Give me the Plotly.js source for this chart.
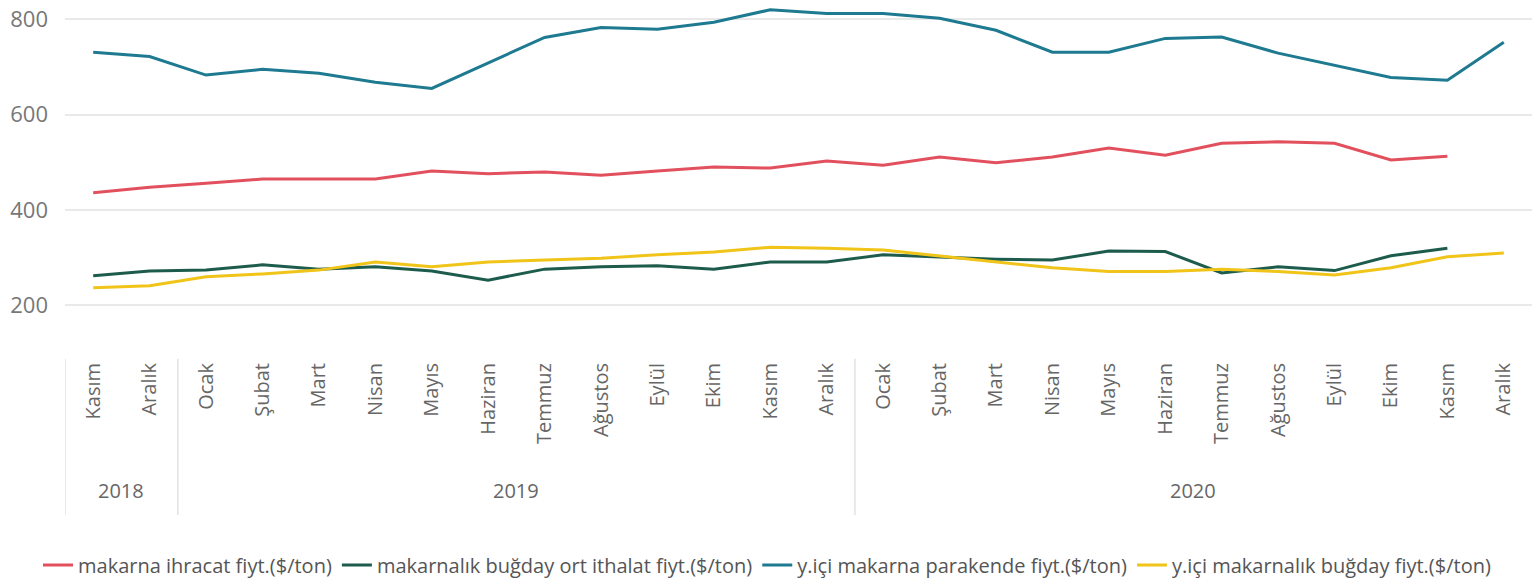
<!DOCTYPE html>
<html>
<head>
<meta charset="utf-8">
<script src="https://cdn.plot.ly/plotly-3.0.1.min.js"></script>
<style>html,body{margin:0;padding:0;background:#fff;}#chart{width:1534px;height:580px;}</style>
</head>
<body>
<div id="chart"></div>
<script>
const months = ["Kasım","Aralık","Ocak","Şubat","Mart","Nisan","Mayıs","Haziran","Temmuz","Ağustos","Eylül","Ekim","Kasım","Aralık","Ocak","Şubat","Mart","Nisan","Mayıs","Haziran","Temmuz","Ağustos","Eylül","Ekim","Kasım","Aralık"];
const years = ["2018","2019","2020"];
const yearCounts = [2, 12, 12];

const ihracat = [436,448,456,465,465,465,482,476,480,473,482,490,488,503,494,511,499,511,530,515,540,543,540,505,513,null];
const ithalat = [262,272,274,285,276,281,272,253,276,281,283,276,291,291,306,302,297,295,314,313,268,281,273,304,320,null];
const parakende = [731,722,683,695,687,668,655,708,762,783,779,794,820,812,812,802,777,731,731,760,763,729,704,678,672,752];
const bugday = [237,241,260,266,274,291,281,291,295,299,306,312,322,320,316,304,291,279,271,271,276,271,264,279,302,310];

const seriesNames = ["makarna ihracat fiyt.($/ton)","makarnalık buğday ort ithalat fiyt.($/ton)","y.içi makarna parakende fiyt.($/ton)","y.içi makarnalık buğday fiyt.($/ton)"];
const colors = ["#E2505E","#1D5C4C","#1E7A90","#F0C419"];
const seriesData = [ihracat, ithalat, parakende, bugday];

const idx = months.map((m,i)=>i);
const traces = seriesData.map((d,i)=>({
  x: idx, y: d, type:'scatter', mode:'lines', name: seriesNames[i],
  line:{color:colors[i], width:3}, connectgaps:false, cliponaxis:false
}));

const shapes = [];
const annotations = [];
let start = 0;
years.forEach((yr,k)=>{
  const n = yearCounts[k];
  shapes.push({type:'line', xref:'x', yref:'paper', x0:start-0.5, x1:start-0.5, y0:-0.075, y1:-0.55, line:{color:'#e2e2e2', width:1.5}});
  annotations.push({xref:'x', yref:'paper', x:start+(n-1)/2, y:-0.475, text:yr, showarrow:false, font:{family:'Open Sans, sans-serif', size:20, color:'#666'}, yanchor:'middle'});
  start += n;
});

const layout = {
  width:1534, height:580,
  margin:{l:65, r:2, t:5, b:246},
  paper_bgcolor:'#fff', plot_bgcolor:'#fff',
  font:{family:'Open Sans, sans-serif', color:'#666'},
  showlegend:true,
  legend:{orientation:'h', x:0.5, xanchor:'center', xref:'container', yref:'container', y:0.026, yanchor:'middle', font:{size:20, color:'#555'}, itemwidth:30, tracegroupgap:0},
  xaxis:{range:[-0.5,25.5], tickvals:idx, ticktext:months, tickangle:-90, showgrid:false, zeroline:false, showline:false, ticks:'', ticklabelstandoff:24, tickfont:{size:20, color:'#666'}, fixedrange:true},
  yaxis:{range:[140,830], tickvals:[200,400,600,800], showgrid:true, gridcolor:'#e9e9e9', gridwidth:2, zeroline:false, showline:false, ticks:'', ticklabelstandoff:16, tickfont:{size:22, color:'#777'}, fixedrange:true},
  shapes: shapes,
  annotations: annotations
};
Plotly.newPlot('chart', traces, layout, {displayModeBar:false, staticPlot:true});
</script>
</body>
</html>
